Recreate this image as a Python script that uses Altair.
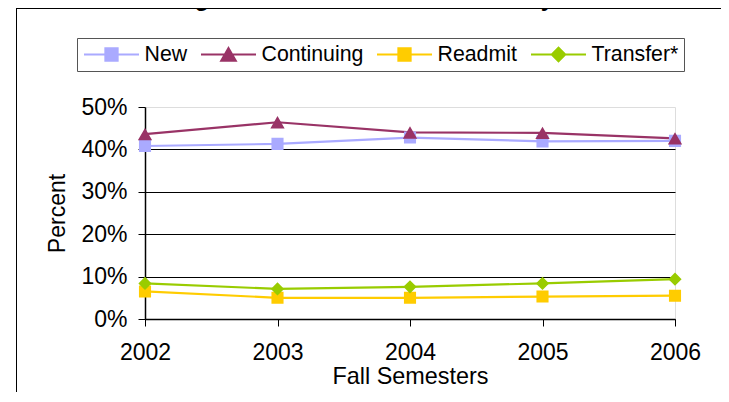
import altair as alt
import pandas as pd

# ---- data ----
years = [2002, 2003, 2004, 2005, 2006]
series = ["New", "Continuing", "Readmit", "Transfer*"]
new_pct = [40.8, 41.3, 42.8, 41.9, 42.0]
continuing_pct = [43.6, 46.4, 44.0, 43.9, 42.6]
readmit_pct = [6.5, 5.0, 5.0, 5.3, 5.5]
transfer_pct = [8.4, 7.1, 7.6, 8.4, 9.4]
y_ticks = [0, 10, 20, 30, 40, 50]
title_text = "Changes in Headcount Enrollment by Status"

# ---- styles ----
colors = ["#AAAAFF", "#993366", "#FFCC00", "#99CC00"]
# custom symbols: a horizontal legend line plus the marker (line is hidden on data points)
LINE = "M-1,0L1,0"
SQUARE = "M-0.22,-0.22L0.22,-0.22L0.22,0.22L-0.22,0.22Z"
TRIANGLE = "M0,-0.225L0.26,0.225L-0.26,0.225Z"
DIAMOND = "M0,-0.24L0.24,0L0,0.24L-0.24,0Z"
shapes = [LINE + SQUARE, LINE + TRIANGLE, LINE + SQUARE, LINE + DIAMOND]
FONT = "Liberation Sans"

rows = []
for name, vals in zip(series, [new_pct, continuing_pct, readmit_pct, transfer_pct]):
    for yr, v in zip(years, vals):
        rows.append({"Year": yr, "Series": name, "Percent": v})
df = pd.DataFrame(rows)
one = pd.DataFrame({"k": [0]})

legend = alt.Legend(
    title=None, orient="none", legendX=-68, legendY=-69, direction="horizontal",
    symbolSize=3025, symbolStrokeWidth=2.2, labelFont=FONT, labelFontSize=21.3,
    labelColor="#000000", labelOffset=4, columnPadding=12, padding=5.5,
    strokeColor="#555555", clipHeight=22, symbolOpacity=1,
)

x_enc = alt.X(
    "Year:Q",
    scale=alt.Scale(domain=[2002, 2006], nice=False, zero=False),
    axis=alt.Axis(
        values=years, format="d", title="Fall Semesters", grid=False,
        labelFont=FONT, labelFontSize=23, labelColor="#000000", labelPadding=15,
        tickSize=7, tickColor="#000000", domainColor="#000000", domainWidth=1.5,
        titleFont=FONT, titleFontSize=23.4, titleFontWeight="normal",
        titleColor="#000000", titlePadding=1, labelFlush=False,
    ),
)
y_enc = alt.Y(
    "Percent:Q",
    scale=alt.Scale(domain=[0, 50], nice=False),
    axis=alt.Axis(
        values=y_ticks, labelExpr="datum.value + '%'", title="Percent",
        grid=True, gridColor={"condition": {"test": "datum.value >= 50", "value": "transparent"}, "value": "#000000"},
        gridWidth=1, labelFont=FONT, labelFontSize=23, labelColor="#000000",
        labelPadding=11, tickSize=7, tickColor="#000000", domainColor="#000000",
        domainWidth=1.5, titleFont=FONT, titleFontSize=23, titleFontWeight="normal",
        titleColor="#000000", titlePadding=11,
    ),
)

lines = alt.Chart(df).mark_line(strokeWidth=2.2).encode(
    x=x_enc, y=y_enc,
    color=alt.Color("Series:N", scale=alt.Scale(domain=series, range=colors), sort=series, legend=legend),
)

points = alt.Chart(df).mark_point(filled=True, opacity=1, size=3025).encode(
    x=x_enc, y=y_enc,
    color=alt.Color("Series:N", scale=alt.Scale(domain=series, range=colors), sort=series, legend=legend),
    stroke=alt.Stroke("Series:N", scale=alt.Scale(domain=series, range=colors), sort=series, legend=legend),
    shape=alt.Shape("Series:N", scale=alt.Scale(domain=series, range=shapes), sort=series, legend=legend),
    strokeWidth=alt.value(0),
)

border_left = alt.Chart(one).mark_rule(color="#000000", strokeWidth=1).encode(
    x=alt.value(-128.5), y=alt.value(-99), y2=alt.value(290)
)
border_top = alt.Chart(one).mark_rule(color="#000000", strokeWidth=1).encode(
    x=alt.value(-128.5), x2=alt.value(576), y=alt.value(-98.5)
)
title = alt.Chart(one).mark_text(
    text=title_text, font=FONT, fontSize=23.5, fontWeight="bold",
    align="center", baseline="alphabetic", color="#000000",
).encode(x=alt.value(239), y=alt.value(-101))

chart = alt.layer(border_left, border_top, title, lines, points).properties(
    width=530, height=212,
    autosize=alt.AutoSizeParams(type="none"),
    padding={"left": 137, "top": 99, "right": 46, "bottom": 73},
).configure_view(
    stroke="#8C8C8C", strokeWidth=2
).configure(background="white")

chart.save("out.html", embed_options={"renderer": "svg", "actions": False})
